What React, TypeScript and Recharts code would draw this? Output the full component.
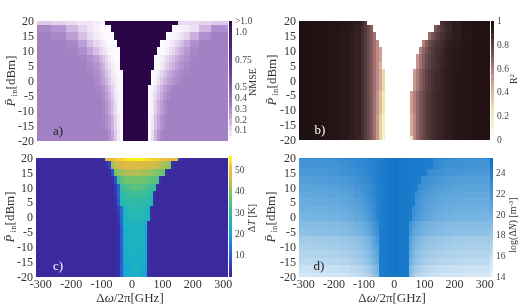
import { ScatterChart, Scatter, XAxis, YAxis } from 'recharts';

const FONT = '"Liberation Serif", serif';
const WIDTH = 522;
const HEIGHT = 306;

// column edges in GHz, finer around the resonance where the picture has its detail
const freqEdges = [
  -316, -270, -220, -180, -150, -130, -110, -100, -90, -80, -70, -60, -50, -40, -30, -20, -10, 0, 10, 20, 30, 40, 50,
  60, 70, 80, 90, 100, 110, 120, 130, 140, 150, 160, 170, 190, 220, 260, 316,
];
// rows sit every 2.5 dBm from 20 down to -20, the first and last are half height
const powerEdges = [20, 18.75, 16.25, 13.75, 11.25, 8.75, 6.25, 3.75, 1.25, -1.25, -3.75, -6.25, -8.75, -11.25, -13.75, -16.25, -18.75, -20];
const freqTicks = [-300, -200, -100, 0, 100, 200, 300];
const powerTicks = [-20, -15, -10, -5, 0, 5, 10, 15, 20];

const D = 110; // saturated NMSE, the ">1.0" end of the scale

// NMSE x 100
const nmseLow1 = [32,32,32,32,32,32, 31,29,25,20,14,8,5,3, D,D,D,D,D,D,D,D, 3,6,11,16,21,26,29,31,32,32,32,32, 32,32,32,32];
const nmseLow2 = [32,32,32,32,32,32, 32,30,27,22,16,10,5,3, D,D,D,D,D,D,D,D, 3,6,13,19,24,28,31,32,32,32,32,32, 32,32,32,32];
const nmseLow3 = [32,32,32,32,32,32, 32,31,29,25,19,12,6,3, D,D,D,D,D,D,D,D, 3,8,16,22,27,30,32,32,32,32,32,32, 32,32,32,32];
const nmseLow4 = [32,32,32,32,32,32, 32,32,31,28,22,14,7,3, D,D,D,D,D,D,D,D, 3,10,19,26,30,32,32,32,32,32,32,32, 32,32,32,32];
const nmse = [
  [14,12,10,8,8,6, 5,4, D,D,D,D,D,D,D,D,D,D,D,D,D,D,D,D,D,D,D,D,D,D,D,D, 12,10, 10,10,12,14],
  [30,26,18,12,8,5, 4,3,3,3, D,D,D,D,D,D,D,D,D,D,D,D,D,D,D,D,D,D,D,D, 3,3,4,5, 6,9,18,28],
  [32,30,24,16,10,7, 5,4,3,3,3, D,D,D,D,D,D,D,D,D,D,D,D,D,D,D,D,D, 3,3,4,5,7,9, 12,20,28,32],
  [32,32,30,24,16,11, 8,6,4,3,3,3, D,D,D,D,D,D,D,D,D,D,D,D,D,D, 3,3,4,6,8,11,14,17, 22,28,32,32],
  [32,32,31,28,22,16, 12,9,6,4,3,3,3, D,D,D,D,D,D,D,D,D,D,D,D, 3,3,4,6,9,12,15,19,22, 26,30,32,32],
  [32,32,32,31,28,24, 19,15,11,7,4,3,3, D,D,D,D,D,D,D,D,D,D,D, 3,3,5,8,11,14,17,20,23,26, 28,31,32,32],
  [32,32,32,32,30,27, 23,18,13,9,6,4,3, D,D,D,D,D,D,D,D,D,D,D, 3,4,6,10,14,17,20,23,26,28, 30,32,32,32],
  [32,32,32,32,31,29, 26,21,16,11,7,5,3,3, D,D,D,D,D,D,D,D,D, 3,4,7,11,15,19,22,25,27,29,30, 31,32,32,32],
  [32,32,32,32,32,30, 27,23,18,13,9,6,4,3, D,D,D,D,D,D,D,D,D, 3,5,9,14,18,22,25,27,29,30,31, 32,32,32,32],
  [32,32,32,32,32,31, 30,27,23,17,12,7,4,3, D,D,D,D,D,D,D,D, 3,5,9,14,19,23,27,29,31,32,32,32, 32,32,32,32],
  nmseLow1, nmseLow2, nmseLow2, nmseLow3, nmseLow3, nmseLow4, nmseLow4,
];

// R^2 x 100, zero is the white gap
const fitMid = [98,97,96,94,92,90, 86,81,76,70,63,55,44,30, 0,0,0,0,0,0,0,0,0, 50,60,68,74,79,82,85,87,88,90,91, 93,95,96,97];
const fitLow1 = [98,97,96,94,92,90, 86,81,76,70,62,52,38,22, 0,0,0,0,0,0,0,0, 48,58,66,72,77,81,84,86,88,89,90,91, 93,95,96,97];
const fitLow2 = [98,97,96,94,92,90, 86,81,76,70,62,50,32,15, 0,0,0,0,0,0,0,0, 44,56,66,72,77,81,84,86,88,89,90,91, 93,95,96,97];
const fitLow3 = [98,97,96,94,92,90, 86,81,76,70,62,50,32,15, 0,0,0,0,0,0,0,0, 20,56,66,72,77,81,84,86,88,89,90,91, 93,95,96,97];
const rSquared = [
  [98,97,96,95,94,92, 88,82, 0,0,0,0,0,0,0,0,0,0,0,0,0,0,0,0,0,0,0,0,0,0,0,0, 85,88, 90,93,96,98],
  [98,97,96,95,93,91, 87,82,77,70, 0,0,0,0,0,0,0,0,0,0,0,0,0,0,0,0,0,0,0,0, 72,78,83,86, 89,92,95,97],
  [98,97,96,94,92,90, 86,81,76,70,63, 0,0,0,0,0,0,0,0,0,0,0,0,0,0,0,0,0, 65,72,78,82,85,87, 90,92,95,97],
  [98,97,96,94,92,90, 86,81,76,70,63,56, 0,0,0,0,0,0,0,0,0,0,0,0,0,0, 58,68,75,80,83,85,87,89, 91,93,95,97],
  [98,97,96,94,92,90, 86,81,76,70,63,55,48, 0,0,0,0,0,0,0,0,0,0,0,0, 58,66,73,79,82,85,87,88,90, 92,94,96,97],
  [98,97,96,94,92,90, 86,81,76,70,63,55,48, 0,0,0,0,0,0,0,0,0,0,0, 52,62,70,76,80,83,85,87,89,90, 92,94,96,97],
  [98,97,96,94,92,90, 86,81,76,70,63,55,42, 0,0,0,0,0,0,0,0,0,0,0, 52,62,70,76,80,83,85,87,89,90, 92,94,96,97],
  fitMid, fitMid, fitMid,
  fitLow1, fitLow1, fitLow1, fitLow2, fitLow2, fitLow2, fitLow3,
];

// temperature rise in K
const tempLow0 = [2,2,2,2,2,2, 2,2,2,2,2,2,3,9, 23,24,25,25,25,25,24,23, 3,2,2,2,2,2,2,2,2,2,2,2, 2,2,2,2];
const tempLow2 = [2,2,2,2,2,2, 2,2,2,2,2,2,3,9, 22,23,24,24,24,24,23,22, 3,2,2,2,2,2,2,2,2,2,2,2, 2,2,2,2];
const tempLow3 = [2,2,2,2,2,2, 2,2,2,2,2,2,3,9, 21,22,23,24,24,23,22,21, 3,2,2,2,2,2,2,2,2,2,2,2, 2,2,2,2];
const deltaT = [
  [2,2,2,2,2,2, 2,4, 47,49,50,51,52,52,53,54,54,55,55,55,54,54,53,53,52,52,51,50,49,48,48,46, 5,2, 2,2,2,2],
  [2,2,2,2,2,2, 2,2,3,6, 42,44,45,46,47,47,47,47,47,47,47,46,46,45,45,44,43,42,41,40, 3,2,2,2, 2,2,2,2],
  [2,2,2,2,2,2, 2,2,2,3,7, 38,40,41,42,43,43,43,43,43,42,42,41,41,40,39,38,37, 3,2,2,2,2,2, 2,2,2,2],
  [2,2,2,2,2,2, 2,2,2,2,3,8, 33,35,37,38,38,38,38,38,38,37,37,36,35,34, 3,2,2,2,2,2,2,2, 2,2,2,2],
  [2,2,2,2,2,2, 2,2,2,2,2,4,10, 32,33,34,34,35,35,35,34,34,33,32,31, 3,2,2,2,2,2,2,2,2, 2,2,2,2],
  [2,2,2,2,2,2, 2,2,2,2,2,4,10, 29,30,31,31,32,32,32,31,31,30,29, 3,2,2,2,2,2,2,2,2,2, 2,2,2,2],
  [2,2,2,2,2,2, 2,2,2,2,2,3,9, 27,28,29,30,30,30,30,29,29,28,27, 3,2,2,2,2,2,2,2,2,2, 2,2,2,2],
  [2,2,2,2,2,2, 2,2,2,2,2,3,5,12, 26,27,28,28,28,28,28,27,26, 3,2,2,2,2,2,2,2,2,2,2, 2,2,2,2],
  [2,2,2,2,2,2, 2,2,2,2,2,2,4,11, 25,26,27,27,27,27,27,26,25, 3,2,2,2,2,2,2,2,2,2,2, 2,2,2,2],
  [2,2,2,2,2,2, 2,2,2,2,2,2,3,10, 24,25,25,26,26,25,25,24, 3,2,2,2,2,2,2,2,2,2,2,2, 2,2,2,2],
  tempLow0, tempLow0, tempLow0, tempLow2, tempLow2, tempLow3, tempLow3,
];

// log10 of the carrier density change
const logDensity = [
  [22.4,22.5,22.6,22.8,23,23.2, 23.4,23.5,23.6,23.7,23.8,24,24.1, 24.3,24.4,24.5,24.6,24.9,24.7,24.6,24.5,24.4, 24.3,24.3,24.3,24.3,24.3,24.3,24.2,24.2,23.3,23.2,23,22.9, 22.8,22.6,22.5,22.4],
  [22,22.1,22.2,22.4,22.7,23, 23.2,23.3,23.4,23.6,23.8,24,24.1, 24.3,24.4,24.5,24.6,24.9,24.7,24.6,24.5,24.4, 24.3,24.3,24.3,24.3,24.3,24.3,24.2,24.1,23,22.9,22.8,22.6, 22.4,22.3,22.2,22.1],
  [21.7,21.8,22,22.2,22.4,22.6, 22.9,23.1,23.3,23.5,23.7,23.9,24.1, 24.3,24.4,24.5,24.6,24.9,24.7,24.6,24.5,24.4, 24.3,24.3,24.3,24.3,24.3,24.2,22.9,22.7,22.6,22.4,22.3,22.2, 22,21.9,21.8,21.7],
  [21.3,21.4,21.6,21.8,22,22.3, 22.6,22.8,23,23.3,23.6,23.9,24.1, 24.3,24.4,24.5,24.6,24.9,24.7,24.6,24.5,24.4, 24.3,24.3,24.3,24.2,22.7,22.5,22.3,22.1,22,21.9,21.7,21.6, 21.5,21.4,21.3,21.3],
  [21,21.1,21.2,21.4,21.7,22, 22.3,22.5,22.7,23,23.4,23.8,24.1, 24.3,24.4,24.5,24.6,24.9,24.7,24.6,24.5,24.4, 24.3,24.3,24.2,22.7,22.3,22.1,21.9,21.8,21.6,21.5,21.4,21.3, 21.2,21.1,21,21],
  [20.6,20.7,20.8,21,21.3,21.6, 21.9,22.2,22.5,22.8,23.3,23.8,24.1, 24.3,24.4,24.5,24.6,24.9,24.7,24.6,24.5,24.4, 24.3,24.2,22.6,22.2,21.9,21.7,21.5,21.4,21.2,21.1,21,20.9, 20.8,20.7,20.6,20.6],
  [20.3,20.4,20.5,20.7,21,21.3, 21.6,21.9,22.2,22.6,23.1,23.7,24.1, 24.3,24.4,24.5,24.6,24.9,24.7,24.6,24.5,24.4, 24.3,24.2,22.3,21.9,21.6,21.4,21.2,21.1,20.9,20.8,20.7,20.6, 20.5,20.4,20.3,20.3],
  [20,20.1,20.2,20.4,20.7,21, 21.3,21.6,21.9,22.3,22.9,23.6,24.1, 24.3,24.4,24.5,24.6,24.9,24.7,24.6,24.5,24.4, 24.2,22.7,22.1,21.7,21.4,21.2,21,20.8,20.6,20.5,20.4,20.3, 20.2,20.1,20,20],
  [19.6,19.7,19.8,20,20.3,20.6, 20.9,21.2,21.6,22,22.6,23.4,24.1, 24.3,24.4,24.5,24.6,24.9,24.7,24.6,24.5,24.4, 24.2,22.4,21.8,21.4,21.1,20.9,20.6,20.5,20.3,20.2,20.1,20, 19.9,19.8,19.7,19.6],
  [19,19.1,19.2,19.4,19.7,20, 20.3,20.6,21,21.5,22.2,22.7,24.1, 24.3,24.4,24.5,24.6,24.9,24.7,24.6,24.5,24.4, 22.3,21.4,20.9,20.5,20.2,20,19.9,19.7,19.6,19.5,19.4,19.3, 19.2,19.1,19,19],
  [18.6,18.7,18.8,19,19.3,19.6, 19.9,20.2,20.6,21.1,21.8,22.3,24.1, 24.3,24.4,24.5,24.6,24.9,24.7,24.6,24.5,24.4, 22,21,20.5,20.1,19.8,19.6,19.5,19.3,19.2,19.1,19,18.9, 18.8,18.7,18.6,18.6],
  [17.8,17.9,18,18.2,18.5,18.8, 19.1,19.4,19.8,20.3,21.2,21.6,24.1, 24.3,24.4,24.5,24.6,24.9,24.7,24.6,24.5,24.4, 21.3,20.3,19.7,19.3,19,18.8,18.6,18.5,18.4,18.3,18.2,18.1, 18,17.9,17.8,17.8],
  [17.4,17.5,17.6,17.8,18.1,18.4, 18.7,19,19.4,19.9,20.8,21.2,24.1, 24.3,24.4,24.5,24.6,24.9,24.7,24.6,24.5,24.4, 20.9,19.9,19.3,18.9,18.6,18.4,18.2,18.1,18,17.9,17.8,17.7, 17.6,17.5,17.4,17.4],
  [17,17.1,17.2,17.4,17.7,18, 18.3,18.6,19,19.5,20.4,20.8,24.1, 24.3,24.4,24.5,24.6,24.9,24.7,24.6,24.5,24.4, 20.5,19.5,18.9,18.5,18.2,18,17.8,17.7,17.6,17.5,17.4,17.3, 17.2,17.1,17,17],
  [16.6,16.7,16.8,17,17.3,17.6, 17.9,18.2,18.6,19.1,20,20.4,24.1, 24.3,24.4,24.5,24.6,24.9,24.7,24.6,24.5,24.4, 20.1,19.1,18.5,18.1,17.8,17.6,17.4,17.3,17.2,17.1,17,16.9, 16.8,16.7,16.6,16.6],
  [15.8,15.9,16,16.2,16.5,16.8, 17.1,17.4,17.8,18.3,19.2,19.6,24.1, 24.3,24.4,24.5,24.6,24.9,24.7,24.6,24.5,24.4, 19.3,18.3,17.7,17.3,17,16.8,16.6,16.5,16.4,16.3,16.2,16.1, 16,15.9,15.8,15.8],
  [15.3,15.4,15.5,15.7,16,16.3, 16.6,16.9,17.3,17.8,18.7,19.1,24.1, 24.3,24.4,24.5,24.6,24.9,24.7,24.6,24.5,24.4, 18.8,17.8,17.2,16.8,16.5,16.3,16.1,16,15.9,15.8,15.7,15.6, 15.5,15.4,15.3,15.3],
];

// colour bar steps
const nmseSteps = [2.5,7.5,12.5,17.5,22.5,27.5,32.5,37.5,42.5,47.5,52.5,57.5,62.5,67.5,72.5,77.5,82.5,87.5,92.5,97.5,102.5,107.5];
const fitSteps = [2.5,7.5,12.5,17.5,22.5,27.5,32.5,37.5,42.5,47.5,52.5,57.5,62.5,67.5,72.5,77.5,82.5,87.5,92.5,97.5];
const tempSteps = [1,3,5,7,9,11,13,15,17,19,21,23,25,27,29,31,33,35,37,39,41,43,45,47,49,51,53,55];
const densitySteps = [14.25,14.75,15.25,15.75,16.25,16.75,17.25,17.75,18.25,18.75,19.25,19.75,20.25,20.75,21.25,21.75,22.25,22.75,23.25,23.75,24.25,24.75,25.25];

const nmseTicks = [10, 20, 30, 40, 50, 75, 100, 110];
const nmseLabels: Record<number, string> = { 10: '0.1', 20: '0.2', 30: '0.3', 40: '0.4', 50: '0.5', 75: '0.75', 100: '1.0', 110: '>1.0' };
const fitTicks = [0, 20, 40, 60, 80, 100];
const fitLabels: Record<number, string> = { 0: '0', 20: '0.2', 40: '0.4', 60: '0.6', 80: '0.8', 100: '1' };
const tempTicks = [10, 20, 30, 40, 50];
const densityTicks = [14, 16, 18, 20, 22, 24];

type Stop = [number, string];
const nmseColors: Stop[] = [[0,'#ffffff'],[3,'#fdfaff'],[10,'#e9dcf1'],[20,'#c9aede'],[32,'#a280c4'],[50,'#7d57ad'],[75,'#55308f'],[100,'#3c1a72'],[110,'#2a0648']];
const fitColors: Stop[] = [[0,'#ffffff'],[10,'#f6f6d8'],[20,'#efedb8'],[30,'#e8d8a8'],[40,'#ddb89a'],[55,'#c08a88'],[65,'#98686a'],[75,'#6e4e50'],[85,'#4a3234'],[92,'#2e1c1e'],[100,'#1a0c0c']];
const tempColors: Stop[] = [[0,'#3a2a9d'],[2,'#3a2a9d'],[10,'#2a62dc'],[20,'#16a2d6'],[25,'#1cb4c0'],[30,'#2fbba4'],[38,'#70c46c'],[45,'#d0bc48'],[50,'#f5b93c'],[55.5,'#f9fb15']];
const densityColors: Stop[] = [[14,'#eaf3fb'],[16,'#c9e0f2'],[18,'#9cc8e8'],[20,'#6fb0e0'],[22,'#4595d6'],[24,'#1f7fcf'],[25.5,'#0c6cbe']];

function hexToRgb(hex: string) {
  return [1, 3, 5].map((i) => parseInt(hex.slice(i, i + 2), 16));
}

function colorOf(stops: Stop[], v: number) {
  if (v <= stops[0][0]) return stops[0][1];
  for (let i = 1; i < stops.length; i++) {
    if (v <= stops[i][0]) {
      const t = (v - stops[i - 1][0]) / (stops[i][0] - stops[i - 1][0]);
      const a = hexToRgb(stops[i - 1][1]);
      const b = hexToRgb(stops[i][1]);
      return `rgb(${a.map((c, k) => Math.round(c + (b[k] - c) * t)).join(',')})`;
    }
  }
  return stops[stops.length - 1][1];
}

function toCells(matrix: number[][]) {
  return matrix.flatMap((row, i) =>
    row.map((v, j) => ({
      x: (freqEdges[j] + freqEdges[j + 1]) / 2,
      y: (powerEdges[i] + powerEdges[i + 1]) / 2,
      w: freqEdges[j + 1] - freqEdges[j],
      h: powerEdges[i] - powerEdges[i + 1],
      v,
    })),
  );
}

function toSteps(levels: number[], step: number) {
  return levels.map((v) => ({ x: 0.5, y: v, w: 1, h: step, v }));
}

const tickStyle = { fontFamily: FONT, fontSize: 12, fill: '#333' };
const barTickStyle = { fontFamily: FONT, fontSize: 9.5, fill: '#444' };

function cellShape(stops: Stop[], unitX: number, unitY: number) {
  return (props: any) => {
    const { cx, cy, payload } = props;
    const w = payload.w * unitX;
    const h = payload.h * unitY;
    return (
      <rect
        x={cx - w / 2}
        y={cy - h / 2}
        width={w}
        height={h}
        fill={colorOf(stops, payload.v)}
        shapeRendering="crispEdges"
      />
    );
  };
}

function Layer({ children }: { children: any }) {
  return <div style={{ position: 'absolute', left: 0, top: 0, width: WIDTH, height: HEIGHT }}>{children}</div>;
}

interface HeatProps {
  left: number;
  right: number;
  top: number;
  bottom: number;
  matrix: number[][];
  stops: Stop[];
  showX: boolean;
}

function Heatmap({ left, right, top, bottom, matrix, stops, showX }: HeatProps) {
  const unitX = (right - left) / 632;
  const unitY = (bottom - top) / 40;
  return (
    <Layer>
      <ScatterChart
        width={WIDTH}
        height={HEIGHT}
        margin={{ left: left - 40, right: WIDTH - right, top, bottom: HEIGHT - bottom - 24 }}
      >
        <XAxis
          type="number"
          dataKey="x"
          domain={[-316, 316]}
          ticks={freqTicks}
          interval={0}
          height={24}
          tick={showX ? tickStyle : false}
          tickLine={false}
          tickSize={0}
          axisLine={false}
          tickMargin={3}
        />
        <YAxis
          type="number"
          dataKey="y"
          domain={[-20, 20]}
          ticks={powerTicks}
          interval={0}
          width={40}
          tick={tickStyle}
          tickLine={false}
          tickSize={0}
          axisLine={false}
          tickMargin={3}
        />
        <Scatter data={toCells(matrix)} isAnimationActive={false} shape={cellShape(stops, unitX, unitY)} />
      </ScatterChart>
    </Layer>
  );
}

interface BarProps {
  left: number;
  right: number;
  top: number;
  bottom: number;
  data: { x: number; y: number; w: number; h: number; v: number }[];
  domain: [number, number];
  ticks: number[];
  labels?: Record<number, string>;
  stops: Stop[];
}

function ColorBar({ left, right, top, bottom, data, domain, ticks, labels, stops }: BarProps) {
  const unitX = right - left;
  const unitY = (bottom - top) / (domain[1] - domain[0]);
  return (
    <Layer>
      <ScatterChart
        width={WIDTH}
        height={HEIGHT}
        margin={{ left, right: WIDTH - right - 28, top, bottom: HEIGHT - bottom }}
      >
        <XAxis type="number" dataKey="x" domain={[0, 1]} hide />
        <YAxis
          type="number"
          dataKey="y"
          orientation="right"
          domain={domain}
          ticks={ticks}
          interval={0}
          width={28}
          tick={barTickStyle}
          tickFormatter={(v: number) => (labels ? labels[v] : String(v))}
          tickLine={false}
          tickSize={0}
          axisLine={false}
          tickMargin={3}
        />
        <Scatter data={data} isAnimationActive={false} shape={cellShape(stops, unitX, unitY)} />
      </ScatterChart>
    </Layer>
  );
}

function PowerTitle({ x, y }: { x: number; y: number }) {
  return (
    <text x={x} y={y} transform={`rotate(-90 ${x} ${y})`} textAnchor="middle" fontFamily={FONT} fontSize={13} fill="#333">
      <tspan fontStyle="italic">{'P\u0304'}</tspan>
      <tspan dy={2} fontSize={9}> in</tspan>
      <tspan dy={-2}>[dBm]</tspan>
    </text>
  );
}

function FreqTitle({ x, y }: { x: number; y: number }) {
  return (
    <text x={x} y={y} textAnchor="middle" fontFamily={FONT} fontSize={13} fill="#333">
      {'\u0394'}<tspan fontStyle="italic">{'\u03c9'}</tspan>{'/2\u03c0[GHz]'}
    </text>
  );
}

function SideTitle({ x, y, children }: { x: number; y: number; children: any }) {
  return (
    <text x={x} y={y} transform={`rotate(-90 ${x} ${y})`} textAnchor="middle" fontFamily={FONT} fontSize={10} fill="#333">
      {children}
    </text>
  );
}

function PanelLetter({ x, y, fill, children }: { x: number; y: number; fill: string; children: string }) {
  return (
    <text x={x} y={y} textAnchor="middle" fontFamily={FONT} fontSize={13} fill={fill}>
      {children}
    </text>
  );
}

export default function App() {
  return (
    <div style={{ position: 'absolute', left: 0, top: 0, width: WIDTH, height: HEIGHT, background: '#fff', filter: 'blur(0.6px)' }}>
      <Heatmap left={37} right={228} top={21} bottom={141} matrix={nmse} stops={nmseColors} showX={false} />
      <Heatmap left={299} right={490} top={21} bottom={139.5} matrix={rSquared} stops={fitColors} showX={false} />
      <Heatmap left={36} right={228} top={157.5} bottom={276.5} matrix={deltaT} stops={tempColors} showX />
      <Heatmap left={299} right={489.5} top={157.5} bottom={276.5} matrix={logDensity} stops={densityColors} showX />

      <ColorBar left={229} right={232} top={21} bottom={141} data={toSteps(nmseSteps, 5)} domain={[0, 110]} ticks={nmseTicks} labels={nmseLabels} stops={nmseColors} />
      <ColorBar left={491} right={494} top={21} bottom={139.5} data={toSteps(fitSteps, 5)} domain={[0, 100]} ticks={fitTicks} labels={fitLabels} stops={fitColors} />
      <ColorBar left={229} right={232} top={157.5} bottom={276.5} data={toSteps(tempSteps, 2)} domain={[0, 55.5]} ticks={tempTicks} stops={tempColors} />
      <ColorBar left={490} right={493} top={157.5} bottom={276.5} data={toSteps(densitySteps, 0.5)} domain={[14, 25.5]} ticks={densityTicks} stops={densityColors} />

      <Layer>
        <svg width={WIDTH} height={HEIGHT} style={{ display: 'block' }}>
          <PowerTitle x={15} y={81} />
          <PowerTitle x={276} y={80} />
          <PowerTitle x={14} y={217} />
          <PowerTitle x={275} y={217} />
          <FreqTitle x={130} y={302} />
          <FreqTitle x={392} y={302} />
          <SideTitle x={256} y={82}>NMSE</SideTitle>
          <SideTitle x={517} y={79}>R<tspan dy={-3} fontSize={7}>2</tspan></SideTitle>
          <SideTitle x={255} y={218}>{'\u0394'}<tspan fontStyle="italic">T</tspan>{' [K]'}</SideTitle>
          <SideTitle x={516} y={225}>{'log(\u0394'}<tspan fontStyle="italic">N</tspan>{') [m'}<tspan dy={-3} fontSize={7}>-3</tspan><tspan dy={3}>]</tspan></SideTitle>
          <PanelLetter x={58} y={135} fill="#222">a)</PanelLetter>
          <PanelLetter x={320} y={134} fill="#fff">b)</PanelLetter>
          <PanelLetter x={58} y={270} fill="#fff">c)</PanelLetter>
          <PanelLetter x={319} y={270} fill="#222">d)</PanelLetter>
        </svg>
      </Layer>
    </div>
  );
}
